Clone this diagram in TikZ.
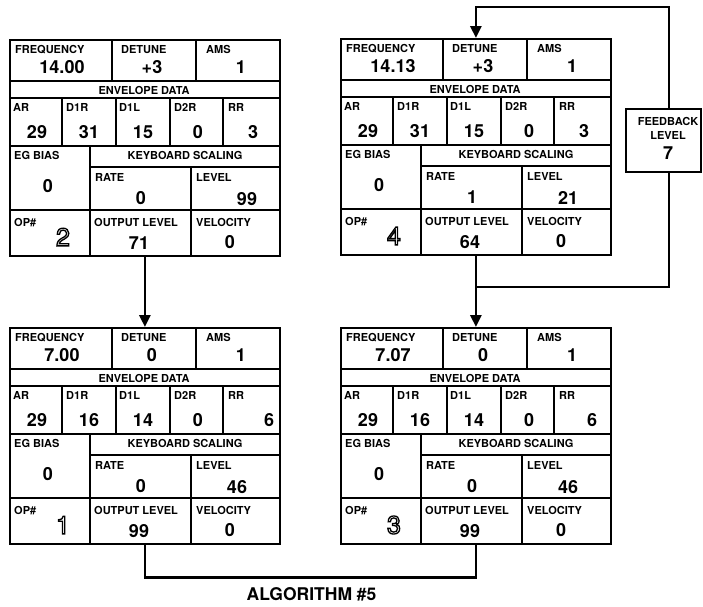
\documentclass[tikz,border=0pt]{standalone}
\usepackage{fontspec}
\setmainfont{TeX Gyre Heros}
\usetikzlibrary{arrows.meta}
\newcommand\labfont{\fontsize{11}{12}\selectfont\bfseries}
\newcommand\valfont{\fontsize{18}{20}\selectfont\bfseries}
\newcommand\numfont{\fontsize{25}{26}\selectfont}
\newcommand\hollow[1]{\special{pdf:literal direct 1 Tr 1.3 w}#1\special{pdf:literal direct 0 Tr}}
\tikzset{
  lab/.style={font=\labfont, anchor=base west, inner sep=0pt},
  labc/.style={font=\labfont, anchor=base, inner sep=0pt},
  val/.style={font=\valfont, anchor=center, inner sep=0pt},
  numf/.style={font=\numfont, anchor=center, inner sep=0pt},
  frame/.style={draw, line width=1.8pt},
  grid/.style={line width=1.3pt},
  conn/.style={line width=2.8pt},
  tip/.style={-{Triangle[width=11pt,length=12pt]}},
}
\pgfkeys{/op/.is family, /op,
  freq/.store in=\opFreq, detune/.store in=\opDet, ams/.store in=\opAms,
  ar/.store in=\opAr, d1r/.store in=\opDa, d1l/.store in=\opDb, d2r/.store in=\opDc,
  rr/.store in=\opRr, rrx/.store in=\opRrx, eg/.store in=\opEg, rate/.store in=\opRate,
  level/.store in=\opLev, levx/.store in=\opLevx, num/.store in=\opNum,
  out/.store in=\opOut, vel/.store in=\opVel}
\newcommand\opbox[4]{%
  \pgfkeys{/op, rrx=244, levx=228, #4}%
  \begin{scope}[shift={(#2,#3)}]
    \node[frame, anchor=north west, minimum width=270pt, minimum height=216pt, inner sep=0pt] (#1) at (0,0) {};
    % horizontal rules
    \draw[grid] (0,42) -- (270,42);
    \draw[grid] (0,59) -- (270,59);
    \draw[grid] (0,107) -- (270,107);
    \draw[grid] (81,128) -- (270,128);
    \draw[grid] (0,171) -- (270,171);
    % vertical rules
    \draw[grid] (103,0) -- (103,42);
    \draw[grid] (187,0) -- (187,42);
    \draw[grid] (53,59) -- (53,107);
    \draw[grid] (107,59) -- (107,107);
    \draw[grid] (161,59) -- (161,107);
    \draw[grid] (214,59) -- (214,107);
    \draw[grid] (81,107) -- (81,216);
    \draw[grid] (182,128) -- (182,216);
    % labels
    \node[lab] (#1-lfreq) at (6,14) {FREQUENCY};
    \node[lab] (#1-ldet) at (112,14) {DETUNE};
    \node[lab] (#1-lams) at (197,14) {AMS};
    \node[labc] (#1-lenv) at (135,55) {ENVELOPE DATA};
    \node[lab] (#1-lar) at (4,72.5) {AR};
    \node[lab] (#1-lda) at (57,72.5) {D1R};
    \node[lab] (#1-ldb) at (110,72.5) {D1L};
    \node[lab] (#1-ldc) at (165,72.5) {D2R};
    \node[lab] (#1-lrr) at (219,72.5) {RR};
    \node[lab] (#1-leg) at (5,120) {EG BIAS};
    \node[labc] (#1-lks) at (176,120) {KEYBOARD SCALING};
    \node[lab] (#1-lrate) at (86,142) {RATE};
    \node[lab] (#1-llev) at (187,142) {LEVEL};
    \node[lab] (#1-lop) at (5,187) {OP\#};
    \node[lab] (#1-lout) at (85,187) {OUTPUT LEVEL};
    \node[lab] (#1-lvel) at (187,187) {VELOCITY};
    % values
    \node[val] (#1-freq) at (53,28) {\opFreq};
    \node[val] (#1-det) at (143,28) {\opDet};
    \node[val] (#1-ams) at (232,28) {\opAms};
    \node[val] (#1-ar) at (28,93.5) {\opAr};
    \node[val] (#1-da) at (80,93.5) {\opDa};
    \node[val] (#1-db) at (134,93.5) {\opDb};
    \node[val] (#1-dc) at (189,93.5) {\opDc};
    \node[val] (#1-rr) at (\opRrx,93.5) {\opRr};
    \node[val] (#1-eg) at (39,147) {\opEg};
    \node[val] (#1-rate) at (132,159) {\opRate};
    \node[val] (#1-lev) at (\opLevx,160) {\opLev};
    \node[val] (#1-out) at (130,204) {\opOut};
    \node[val] (#1-vel) at (221,203) {\opVel};
    % outlined operator number
    \node[numf] (#1-num) at (54,198) {\hollow{\opNum}};
  \end{scope}}
\begin{document}
\begin{tikzpicture}[x=1pt,y=-1pt]
  \useasboundingbox (0,0) rectangle (703,606);
  \fill[white] (0,0) rectangle (703,606);
  \opbox{op2}{9}{39}{freq=14.00, detune=+3, ams=1, ar=29, d1r=31, d1l=15, d2r=0, rr=3, eg=0, rate=0, level=99, levx=238, num=2, out=71, vel=0}
  \opbox{op4}{340}{38}{freq=14.13, detune=+3, ams=1, ar=29, d1r=31, d1l=15, d2r=0, rr=3, eg=0, rate=1, level=21, num=4, out=64, vel=0}
  \opbox{op1}{9}{327}{freq=7.00, detune=0, ams=1, ar=29, d1r=16, d1l=14, d2r=0, rr=6, rrx=260, eg=0, rate=0, level=46, num=1, out=99, vel=0}
  \opbox{op3}{340}{327}{freq=7.07, detune=0, ams=1, ar=29, d1r=16, d1l=14, d2r=0, rr=6, rrx=252, eg=0, rate=0, level=46, num=3, out=99, vel=0}
  % feedback level box
  \node[draw, line width=1.4pt, minimum width=75pt, minimum height=63pt, inner sep=0pt] (fb) at (663.5,140.5) {};
  \node[labc] (fbt1) at (668,125) {FEEDBACK};
  \node[labc] (fbt2) at (668,139) {LEVEL};
  \node[val] (fbv) at (668,153.5) {7};
  % connectors
  \draw[conn,tip] (op2.south) -- (op1.north);
  \draw[conn,tip] (op4.south) -- (op3.north);
  \coordinate (fbj) at (475,287);
  \coordinate (fbtop) at (669,7);
  \draw[conn] (fbj) -| ([xshift=5.5pt]fb.south);
  \draw[conn,tip] ([xshift=5.5pt]fb.north) -- (fbtop) -| (op4.north);
  \draw[conn] (op1.south) -- ++(0,33) -| (op3.south);
  \node[font=\fontsize{17.5}{18}\selectfont\bfseries, anchor=center, inner sep=0pt] (alg) at (311.5,594) {ALGORITHM \#5};
\end{tikzpicture}
\end{document}
